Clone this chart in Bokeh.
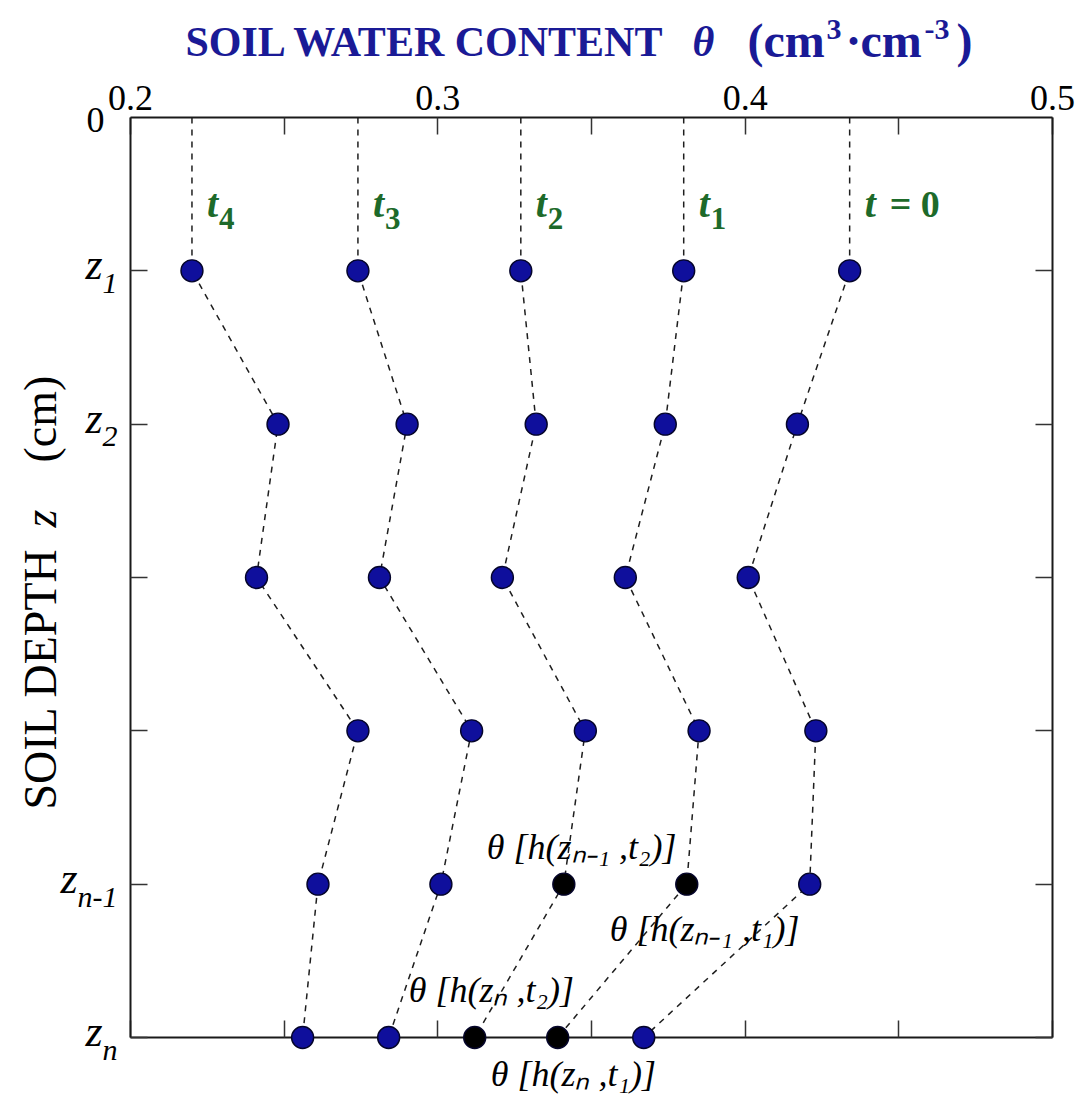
import math

from bokeh.core.properties import value
from bokeh.embed import file_html
from bokeh.models import ColumnDataSource, FixedTicker, LinearAxis, Range1d
from bokeh.plotting import figure
from bokeh.resources import INLINE

# ---- data -------------------------------------------------------------
# depth nodes z1 ... zn (index 1..6), surface at 0
depth_nodes = [1, 2, 3, 4, 5, 6]
depth_tick_main = ["z", "z", "", "", "z", "z"]
depth_tick_sub = ["1", "2", "", "", "n-1", "n"]

# soil water content theta (cm3/cm3) at each node, one profile per time
theta_t0 = [0.434, 0.417, 0.401, 0.423, 0.421, 0.367]
theta_t1 = [0.380, 0.374, 0.361, 0.385, 0.381, 0.339]
theta_t2 = [0.327, 0.332, 0.321, 0.348, 0.341, 0.312]
theta_t3 = [0.274, 0.290, 0.281, 0.311, 0.301, 0.284]
theta_t4 = [0.220, 0.248, 0.241, 0.274, 0.261, 0.256]

profiles = [theta_t0, theta_t1, theta_t2, theta_t3, theta_t4]
profile_main = ["t", "t", "t", "t", "t"]
profile_sub = ["= 0", "1", "2", "3", "4"]

# nodes whose value is written out as theta[h(z, t)]
marked_nodes = {1: [5, 6], 2: [5, 6]}

theta_major = [0.2, 0.3, 0.4, 0.5]
theta_minor = [0.25, 0.35, 0.45]

# ---- styling ----------------------------------------------------------
SERIF = "Liberation Serif"
BLUE = "#1a1a96"
GREEN = "#1d6a2a"
DOT_BLUE = "#0f0f9c"
INK = "#1a1a1a"

p = figure(
    width=1085, height=1104,
    x_range=Range1d(0.2, 0.5), y_range=Range1d(6, 0),
    output_backend="svg", toolbar_location=None,
    min_border_left=130, min_border_right=33,
    min_border_top=117, min_border_bottom=67,
    background_fill_color="white", border_fill_color="white",
)
p.outline_line_color = None
p.grid.visible = False

top_axis = LinearAxis()
right_axis = LinearAxis()
p.add_layout(top_axis, "above")
p.add_layout(right_axis, "right")

bottom_axis = [a for a in p.xaxis if a is not top_axis][0]
left_axis = [a for a in p.yaxis if a is not right_axis][0]


def frame_axis(ax):
    ax.axis_line_color = INK
    ax.axis_line_width = 2
    ax.major_tick_in = 17
    ax.major_tick_out = 0
    ax.minor_tick_in = 17
    ax.minor_tick_out = 0
    ax.major_tick_line_color = "#333333"
    ax.minor_tick_line_color = "#333333"
    ax.major_tick_line_width = 1.5
    ax.minor_tick_line_width = 1.5


for ax in (top_axis, bottom_axis):
    frame_axis(ax)
    ax.ticker = FixedTicker(ticks=theta_major, minor_ticks=theta_minor)

for ax in (left_axis, right_axis):
    frame_axis(ax)
    ax.ticker = FixedTicker(ticks=depth_nodes)

top_axis.major_label_overrides = {t: f"{t:.1f}" for t in theta_major}
top_axis.major_label_text_font = SERIF
top_axis.major_label_text_font_size = "36px"
top_axis.major_label_text_color = "black"
top_axis.major_label_standoff = 8

for ax in (bottom_axis, left_axis, right_axis):
    ax.major_label_text_color = None
    ax.major_label_text_font_size = "1px"

# Bokeh's text box puts the alphabetic baseline about this fraction of the
# font size below the anchor; lift the text back so the anchor is the baseline
BASELINE_LIFT = 0.36


def note(x, y, text, dx=0, dy=0, px=36, style="normal", color="black",
         align="left", baseline="alphabetic", angle=0.0):
    # text at a data position, shifted by dx (right) / dy (up) pixels; on the
    # overlay level so it may extend into the margins
    if baseline == "alphabetic":
        if angle:
            dx -= BASELINE_LIFT * px
        else:
            dy += BASELINE_LIFT * px
    p.text(x=[x], y=[y], text=[text], x_offset=dx, y_offset=-dy,
           text_font=value(SERIF), text_font_size=value(f"{px}px"),
           text_font_style=value(style), text_color=color,
           text_align=value(align), text_baseline=value(baseline),
           angle=angle, level="overlay")


# depth labels z1 ... zn beside the left axis (main letter + subscript)
SUB_PX = 30
GLYPH_EM = {"n": 0.5, "-": 0.333, "1": 0.5, "2": 0.5}
for z, main, sub in zip(depth_nodes, depth_tick_main, depth_tick_sub):
    if not main:
        continue
    sub_w = sum(GLYPH_EM.get(c, 0.5) for c in sub) * SUB_PX
    note(0.2, z, sub, dx=-13, dy=-23, px=SUB_PX, style="italic", align="right")
    note(0.2, z, main, dx=-13 - sub_w, dy=-10, px=44, style="italic",
         align="right")

# surface depth mark
note(0.2, 0, "0", dx=-26, dy=-2, px=36, align="right", baseline="middle")

# ---- profiles ---------------------------------------------------------
for theta in profiles:
    # vertical drop from the surface to z1, then node to node
    p.line([theta[0]] + theta, [0] + depth_nodes,
           line_color="#1e1e1e", line_width=1.5, line_dash="6 6")

xs, ys, fills = [], [], []
for k, theta in enumerate(profiles):
    for z, th in zip(depth_nodes, theta):
        xs.append(th)
        ys.append(z)
        fills.append("black" if z in marked_nodes.get(k, []) else DOT_BLUE)

dots = ColumnDataSource(dict(x=xs, y=ys, fill=fills))
p.scatter("x", "y", source=dots, size=22, fill_color="fill",
          line_color="#05052a", line_width=1.4, level="overlay")

# time labels above each profile
for k, theta in enumerate(profiles):
    note(theta[0], 1, profile_main[k], dx=15, dy=53, px=40,
         style="bold italic", color=GREEN)
    if profile_sub[k].startswith("="):
        note(theta[0], 1, profile_sub[k], dx=40, dy=53, px=38,
             style="bold", color=GREEN)
    else:
        note(theta[0], 1, profile_sub[k], dx=27, dy=41, px=31,
             style="bold", color=GREEN)

# theta[h(z, t)] call-outs for the marked nodes
callouts = [
    (2, 5, "θ [h(zₙ₋₁ ,t₂)]", -77, 24),
    (1, 5, "θ [h(zₙ₋₁ ,t₁)]", -77, -58),
    (2, 6, "θ [h(zₙ ,t₂)]", -66, 35),
    (1, 6, "θ [h(zₙ ,t₁)]", -67, -49),
]
for k, z, txt, dx, dy in callouts:
    note(profiles[k][z - 1], z, txt, dx=dx, dy=dy, px=36, style="italic")

# top title, set piece by piece (italic theta, raised exponents)
title_pieces = [
    ("SOIL WATER CONTENT", 55, 42, "bold", 0),
    ("θ", 562, 42, "bold italic", 0),
    ("(cm", 617, 48, "bold", 0),
    ("3", 696, 30, "bold", 17),
    ("·", 715, 48, "bold", 0),
    ("cm", 730, 48, "bold", 0),
    ("-3", 794, 30, "bold", 17),
    (")", 826, 48, "bold", 0),
]
for txt, dx, size, style, rise in title_pieces:
    note(0.2, 0, txt, dx=dx, dy=60 + rise, px=size, style=style, color=BLUE)

# left title, rotated to read upwards
for txt, dy, style in [("SOIL DEPTH", -692, "normal"),
                       ("z", -410, "italic"),
                       ("(cm)", -345, "normal")]:
    note(0.2, 0, txt, dx=-73, dy=dy, px=46, style=style, angle=math.pi / 2)

open("out.html", "w").write(file_html(p, INLINE))
